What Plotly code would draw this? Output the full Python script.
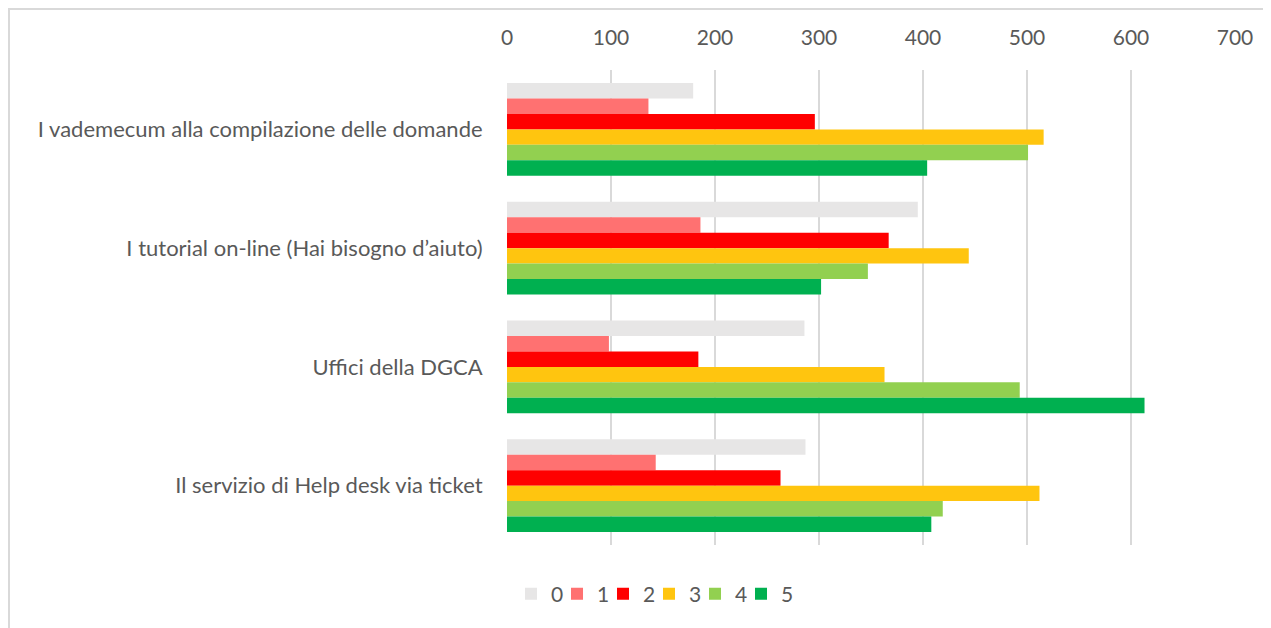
import plotly.graph_objects as go

categories = [
    "I vademecum alla compilazione delle domande",
    "I tutorial on-line (Hai bisogno d’aiuto)",
    "Uffici della DGCA",
    "Il servizio di Help desk via ticket",
]
series_names = ["0", "1", "2", "3", "4", "5"]
s0 = [179, 395, 286, 287]
s1 = [136, 186, 98, 143]
s2 = [296, 367, 184, 263]
s3 = [516, 444, 363, 512]
s4 = [501, 347, 493, 419]
s5 = [404, 302, 613, 408]
series_values = [s0, s1, s2, s3, s4, s5]
colors = ["#e7e6e6", "#ff7171", "#ff0000", "#ffc50f", "#92d050", "#00b050"]
x_ticks = [0, 100, 200, 300, 400, 500, 600, 700]

FONT = "Lato"
TXT = "#595959"

fig = go.Figure()
for name, vals, col in zip(series_names, series_values, colors):
    fig.add_trace(go.Bar(
        y=categories, x=vals, name=name, orientation="h",
        marker=dict(color=col, line=dict(width=0)),
    ))
# invisible spacer legend entry so the last label is not clipped
fig.add_trace(go.Scatter(
    x=[None], y=[None], mode="markers", name=" ",
    marker=dict(color="rgba(0,0,0,0)", size=1), hoverinfo="skip",
))

fig.update_layout(
    width=1263, height=620,
    barmode="group", bargap=0.22, bargroupgap=0,
    plot_bgcolor="white", paper_bgcolor="white",
    margin=dict(l=499, r=36, t=62, b=83, autoexpand=False),
    font=dict(family=FONT, size=21, color=TXT),
    xaxis=dict(
        side="top", range=[0, 700], tickvals=x_ticks,
        showgrid=True, gridcolor="#d9d9d9", gridwidth=1.5,
        zeroline=False, showline=False,
        ticks="outside", ticklen=16, tickcolor="rgba(0,0,0,0)",
        tickfont=dict(family=FONT, size=21, color=TXT),
    ),
    yaxis=dict(
        autorange="reversed", showgrid=False, zeroline=False, showline=False,
        ticks="outside", ticklen=19, tickcolor="rgba(0,0,0,0)",
        tickfont=dict(family=FONT, size=22, color=TXT),
    ),
    legend=dict(
        orientation="h", x=0.0055, xanchor="left", y=-0.06, yanchor="top",
        font=dict(family=FONT, size=21, color=TXT),
        traceorder="normal", entrywidth=1,
    ),
    shapes=[dict(
        type="rect", xref="paper", yref="paper",
        x0=(1 - 499) / 728, x1=2, y0=-2, y1=1 + (62 - 1) / 475,
        line=dict(color="#d9d9d9", width=2), fillcolor="rgba(0,0,0,0)",
        layer="below",
    )],
)

fig.write_html("out.html")
